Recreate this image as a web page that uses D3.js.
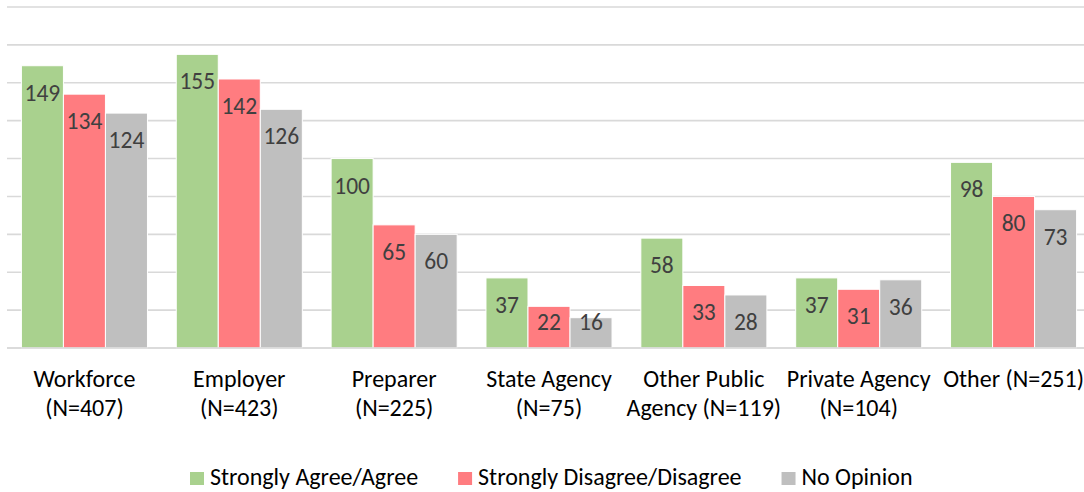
<!DOCTYPE html>
<html>
<head>
<meta charset="utf-8">
<script src="https://cdn.jsdelivr.net/npm/d3@7"></script>
<style>
  html, body { margin: 0; padding: 0; background: #fff; }
  svg { display: block; }
  text { font-family: Carlito, Calibri, Lato, sans-serif; }
</style>
</head>
<body>
<svg id="chart" width="1084" height="492"></svg>
<script>
const categories = [
  ["Workforce", "(N=407)"],
  ["Employer", "(N=423)"],
  ["Preparer", "(N=225)"],
  ["State Agency", "(N=75)"],
  ["Other Public", "Agency (N=119)"],
  ["Private Agency", "(N=104)"],
  ["Other (N=251)"]
];
const seriesNames = ["Strongly Agree/Agree", "Strongly Disagree/Disagree", "No Opinion"];
const agree    = [149, 155, 100, 37, 58, 37, 98];
const disagree = [134, 142, 65, 22, 33, 31, 80];
const noOpinion = [124, 126, 60, 16, 28, 36, 73];
const colors = ["#A9D18E", "#FF7C80", "#BFBFBF"];
const yTicks = [0, 20, 40, 60, 80, 100, 120, 140, 160, 180];

const series = [agree, disagree, noOpinion];
const svg = d3.select("#chart");

const plotLeft = 7, plotRight = 1091, plotBottom = 348, plotTop = 7;
const catKeys = categories.map((c, i) => i);

const x0 = d3.scaleBand().domain(catKeys).range([plotLeft, plotRight])
  .paddingInner(0.186).paddingOuter(0.093);
const x1 = d3.scaleBand().domain([0, 1, 2]).range([0, x0.bandwidth()]).padding(0);
const y = d3.scaleLinear().domain([0, 180]).range([plotBottom, plotTop]);

// gridlines
svg.append("g").selectAll("line").data(yTicks).join("line")
  .attr("x1", plotLeft).attr("x2", plotRight)
  .attr("y1", d => y(d)).attr("y2", d => y(d))
  .attr("stroke", "#D9D9D9").attr("stroke-width", 1.6);

// bars
const groups = svg.append("g").selectAll("g").data(catKeys).join("g")
  .attr("transform", i => `translate(${x0(i)},0)`);

groups.selectAll("rect")
  .data(i => series.map((s, k) => ({k, v: s[i]})))
  .join("rect")
  .attr("x", d => x1(d.k))
  .attr("width", x1.bandwidth())
  .attr("y", d => y(d.v))
  .attr("height", d => y(0) - y(d.v))
  .attr("fill", d => colors[d.k])
  .attr("stroke", "#fff").attr("stroke-width", 1);

groups.selectAll("text.val")
  .data(i => series.map((s, k) => ({k, v: s[i]})))
  .join("text")
  .attr("class", "val")
  .attr("x", d => x1(d.k) + x1.bandwidth() / 2)
  .attr("y", d => Math.min(y(d.v) + 35, y(0) - 18))
  .attr("text-anchor", "middle")
  .attr("font-size", 23.5)
  .attr("fill", "#404040")
  .text(d => d.v);

// baseline
svg.append("line")
  .attr("x1", plotLeft).attr("x2", plotRight)
  .attr("y1", y(0)).attr("y2", y(0))
  .attr("stroke", "#D9D9D9").attr("stroke-width", 1.6);

// category labels
const catG = svg.append("g").selectAll("text").data(catKeys).join("text")
  .attr("text-anchor", "middle")
  .attr("font-size", 24)
  .attr("fill", "#000");
catG.each(function(i) {
  const t = d3.select(this);
  categories[i].forEach((line, j) => {
    t.append("tspan")
      .attr("x", x0(i) + x0.bandwidth() / 2)
      .attr("y", 386.5 + j * 29)
      .text(line);
  });
});

// legend
const legend = svg.append("g");
let lx = 190;
seriesNames.forEach((name, k) => {
  legend.append("rect")
    .attr("x", lx).attr("y", 472).attr("width", 14).attr("height", 13)
    .attr("fill", colors[k]);
  const t = legend.append("text")
    .attr("x", lx + 20).attr("y", 484.5)
    .attr("font-size", 24).attr("fill", "#000")
    .text(name);
  const w = t.node().getComputedTextLength();
  lx = lx + 20 + w + 40;
});
</script>
</body>
</html>
